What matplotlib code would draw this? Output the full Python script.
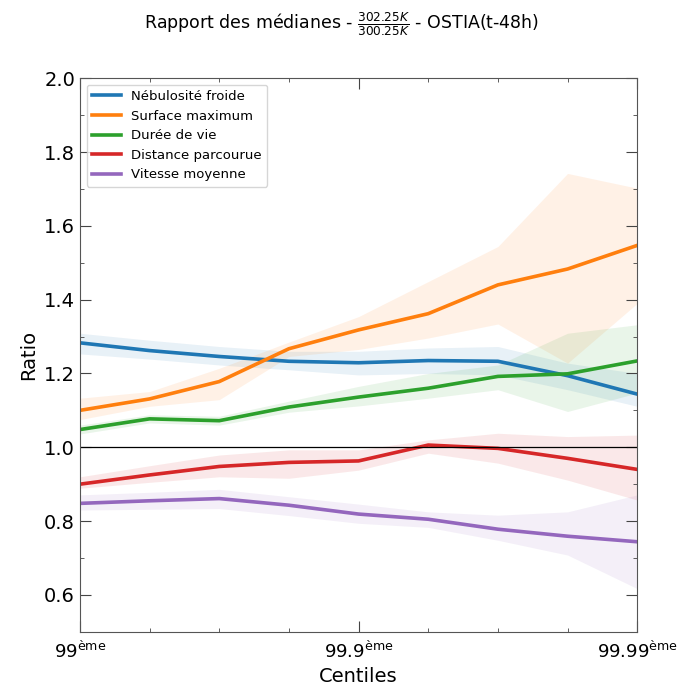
import matplotlib
matplotlib.use('Agg')
import matplotlib.pyplot as plt
import numpy as np

# Positions of the centiles on the x axis (99, ..., 99.9, ..., 99.99)
x_pos = np.arange(9)
tick_pos = [0, 4, 8]
tick_labels = ['$\\mathregular{99^{ème}}$', '$\\mathregular{99.9^{ème}}$', '$\\mathregular{99.99^{ème}}$']

labels = ['Nébulosité froide', 'Surface maximum', 'Durée de vie',
          'Distance parcourue', 'Vitesse moyenne']
colors = ['#1f77b4', '#ff7f0e', '#2ca02c', '#d62728', '#9467bd']

# medians
nebulosite = [1.283, 1.262, 1.246, 1.233, 1.229, 1.235, 1.233, 1.194, 1.144]
surface = [1.100, 1.131, 1.178, 1.267, 1.318, 1.362, 1.440, 1.483, 1.547]
duree = [1.048, 1.077, 1.072, 1.109, 1.136, 1.160, 1.192, 1.199, 1.234]
distance = [0.900, 0.925, 0.948, 0.959, 0.963, 1.006, 0.997, 0.970, 0.940]
vitesse = [0.848, 0.855, 0.861, 0.843, 0.819, 0.805, 0.778, 0.759, 0.744]

# lower / upper envelopes
nebulosite_lo = [1.253, 1.239, 1.223, 1.210, 1.196, 1.200, 1.196, 1.156, 1.111]
nebulosite_hi = [1.309, 1.290, 1.273, 1.260, 1.260, 1.269, 1.273, 1.228, 1.200]
surface_lo = [1.075, 1.111, 1.129, 1.246, 1.265, 1.296, 1.334, 1.228, 1.390]
surface_hi = [1.133, 1.151, 1.214, 1.285, 1.354, 1.449, 1.544, 1.742, 1.702]
duree_lo = [1.036, 1.066, 1.060, 1.095, 1.112, 1.133, 1.156, 1.097, 1.147]
duree_hi = [1.060, 1.088, 1.084, 1.125, 1.165, 1.200, 1.223, 1.309, 1.332]
distance_lo = [0.889, 0.905, 0.920, 0.916, 0.938, 0.984, 0.957, 0.911, 0.857]
distance_hi = [0.920, 0.950, 0.979, 0.993, 0.993, 1.020, 1.038, 1.029, 1.033]
vitesse_lo = [0.830, 0.832, 0.834, 0.815, 0.794, 0.783, 0.748, 0.708, 0.617]
vitesse_hi = [0.871, 0.878, 0.886, 0.866, 0.846, 0.825, 0.816, 0.825, 0.871]

medians = [nebulosite, surface, duree, distance, vitesse]
lows = [nebulosite_lo, surface_lo, duree_lo, distance_lo, vitesse_lo]
highs = [nebulosite_hi, surface_hi, duree_hi, distance_hi, vitesse_hi]


def main():
    fig = plt.figure(figsize=(6.83, 6.86), dpi=100)
    ax = fig.add_axes([0.117, 0.079, 0.816, 0.807])

    for med, lo, hi, lab, col in zip(medians, lows, highs, labels, colors):
        ax.fill_between(x_pos, lo, hi, color=col, alpha=0.1, lw=0)
        ax.plot(x_pos, med, color=col, lw=2.6, label=lab)

    ax.axhline(1.0, color='black', lw=0.9)

    ax.set_xlim(0, 8)
    ax.set_ylim(0.5, 2.0)
    ax.set_xticks(tick_pos)
    ax.set_xticklabels(tick_labels, fontsize=13)
    ax.set_xticks([1, 2, 3, 5, 6, 7], minor=True)
    ax.set_yticks(np.arange(0.6, 2.01, 0.2))
    ax.set_yticks(np.arange(0.7, 2.0, 0.2), minor=True)
    ax.tick_params(axis='y', labelsize=14)
    ax.tick_params(which='both', direction='in', top=True, right=True, color='#444444')
    ax.tick_params(which='major', length=8)
    ax.tick_params(which='minor', length=3)
    ax.tick_params(axis='x', pad=6)
    for s in ax.spines.values():
        s.set_color('#555555')

    ax.set_xlabel('Centiles', fontsize=14)
    ax.set_ylabel('Ratio', fontsize=14)
    fig.suptitle('Rapport des médianes - $\\frac{302.25K}{300.25K}$ - OSTIA(t-48h)',
                 fontsize=12.5, y=0.985)

    ax.legend(loc='upper left', fontsize=9.5, handlelength=2.2, framealpha=0.8)

    fig.savefig('out.png', dpi=100)


if __name__ == "__main__":
    main()
